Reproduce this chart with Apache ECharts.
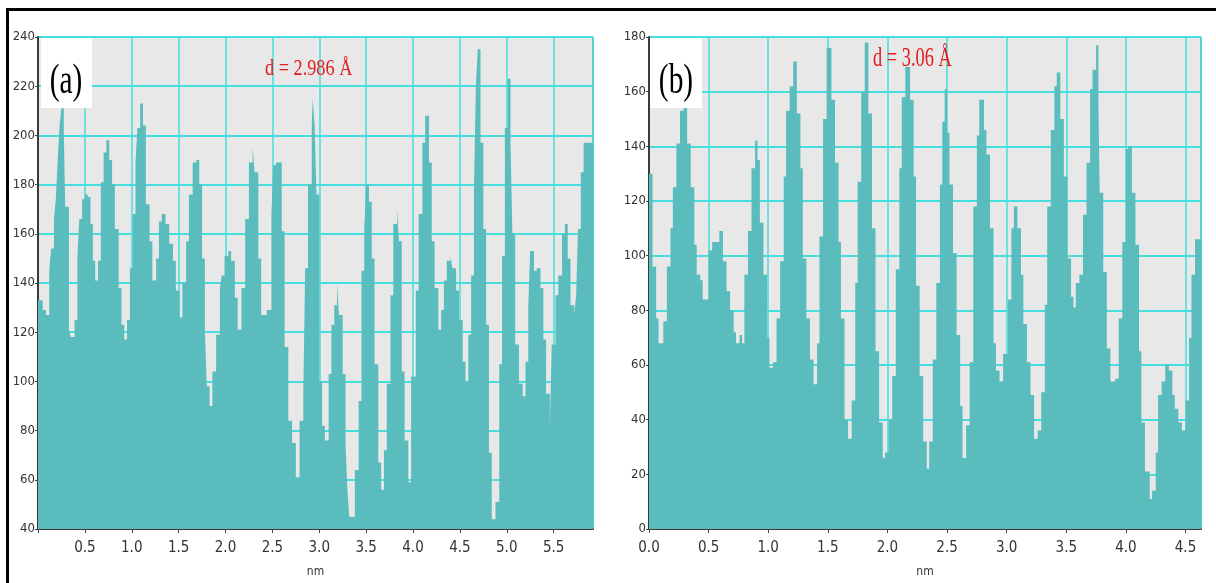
<!DOCTYPE html>
<html>
<head>
<meta charset="utf-8">
<script src="https://cdn.jsdelivr.net/npm/echarts@6/dist/echarts.min.js"></script>
<style>
html,body{margin:0;padding:0;background:#fff;}
#chart{width:1216px;height:583px;}
</style>
</head>
<body>
<div id="chart"></div>
<script>
// Panel (a): step-profile breakpoints (nm) and intensity values
const aX = [0.00,0.05,0.085,0.12,0.14,0.17,0.19,0.21,0.23,0.25,0.275,0.29,0.33,0.35,
0.39,0.42,0.44,0.47,0.50,0.53,0.56,0.585,0.61,
0.64,0.67,0.70,0.73,0.76,0.79,0.82,0.86,0.89,0.92,
0.95,0.98,1.01,1.04,1.06,1.09,1.12,1.15,1.19,1.22,
1.26,1.29,1.32,1.36,1.40,1.44,1.47,1.51,
1.54,1.58,1.61,1.65,1.69,1.72,1.75,1.78,1.80,1.83,
1.86,1.90,1.94,1.96,1.99,2.03,2.06,2.10,2.13,
2.17,2.21,2.25,2.29,2.31,2.35,2.38,
2.44,2.49,2.51,2.54,2.60,2.63,2.67,2.71,2.75,
2.79,2.83,2.85,2.88,2.92,2.93,2.95,2.97,3.00,3.03,3.06,
3.10,3.13,3.16,3.19,3.21,3.25,3.28,3.30,3.32,
3.38,3.42,3.45,3.48,3.50,3.53,3.56,3.59,3.63,3.66,
3.69,3.72,3.76,3.79,3.83,3.85,3.88,3.91,3.95,
3.98,4.03,4.06,4.10,4.13,4.17,4.20,4.23,4.27,4.30,
4.33,4.36,4.40,4.42,4.46,4.49,4.53,4.56,
4.59,4.62,4.65,4.67,4.69,4.72,4.75,4.78,4.81,4.84,
4.88,4.92,4.95,4.98,5.01,5.04,5.06,5.09,5.13,5.17,
5.20,5.23,5.25,5.29,5.32,5.36,5.39,5.42,5.46,
5.48,5.52,5.55,5.59,5.62,5.65,5.68,5.72,5.74,
5.76,5.79,5.82,5.92];
const aV = [133,129,127,145,154,166,174,190,204,211,202,171,121,118,
125,150,166,174,176,175,164,149,141,
149,181,193,198,190,180,162,138,123,117,
125,146,168,189,203,213,204,172,157,141,
150,165,168,164,156,149,137,126,
140,157,176,189,190,180,150,121,98,90,
104,119,138,143,151,153,149,134,121,
138,166,189,195,185,150,127,
129,168,188,189,161,114,84,75,61,
84,96,146,180,204,215,204,176,100,82,76,
103,123,131,140,127,103,75,56,45,
64,92,145,162,180,173,150,107,67,56,
72,99,135,164,170,157,104,76,59,
102,137,168,197,208,189,157,138,121,129,
141,149,151,146,137,125,108,100,
119,143,177,219,235,197,162,123,71,44,
51,107,151,203,223,197,160,115,99,94,
108,131,153,145,146,138,117,95,82,
115,135,143,160,164,150,131,127,135,
162,185,197,197];

// Panel (b)
const bX = [0.00,0.03,0.06,0.08,0.12,0.15,0.18,0.20,0.23,0.26,0.29,0.32,0.35,0.38,0.40,0.43,0.45,
0.50,0.53,0.59,0.62,0.65,0.68,0.71,0.73,0.76,0.78,
0.80,0.83,0.86,0.89,0.91,0.93,0.96,0.99,1.01,1.04,
1.07,1.10,1.13,1.15,1.18,1.21,1.24,1.27,1.29,1.32,1.35,1.38,
1.41,1.43,1.46,1.49,1.53,1.56,1.59,1.61,1.64,1.67,
1.70,1.73,1.75,1.78,1.81,1.84,1.87,1.90,1.93,1.96,1.98,
2.01,2.04,2.07,2.10,2.12,2.15,2.19,2.22,2.24,2.27,2.30,2.33,
2.35,2.38,2.41,2.44,2.46,2.48,2.50,2.52,2.55,2.58,2.61,2.63,
2.66,2.69,2.72,2.75,2.77,2.81,2.83,2.86,2.89,2.91,2.94,
2.97,3.01,3.04,3.06,3.09,3.12,3.14,3.17,3.20,3.23,3.26,
3.29,3.32,3.34,3.37,3.40,3.42,3.45,3.48,3.51,3.54,3.56,
3.58,3.61,3.64,3.67,3.70,3.72,3.75,3.77,3.78,3.81,3.84,3.87,
3.91,3.94,3.97,4.00,4.02,4.05,4.08,4.11,4.13,4.16,4.20,
4.22,4.25,4.27,4.30,4.33,4.36,4.39,4.41,4.44,4.47,4.50,4.53,4.55,4.58,4.63];
const bV = [130,96,77,68,76,96,110,125,141,153,163,141,125,104,93,91,84,
102,105,109,98,87,80,72,68,71,68,
93,109,132,142,135,112,93,70,59,61,
77,98,129,153,162,171,152,132,99,77,62,53,
68,107,150,176,157,134,105,77,40,33,
47,90,127,160,178,152,110,65,39,26,28,
40,56,95,132,158,169,157,129,89,56,32,22,
32,62,90,126,149,161,145,126,101,71,45,26,
38,61,118,144,157,146,137,110,68,58,54,
64,84,110,118,110,93,75,61,49,33,36,
50,82,118,146,162,167,150,129,99,85,81,
90,93,115,134,161,168,177,155,123,94,66,54,
55,77,105,139,140,123,104,65,39,21,11,
14,28,49,54,60,58,49,44,39,36,47,70,93,106,106];

const aTicksFmt = v => (v > 0.01 ? v.toFixed(1) : '');
const bTicksFmt = v => v.toFixed(1);

const teal = '#5abcbc';
const gridCyan = '#44dede';
const xFont = "'Liberation Sans Narrow', 'DejaVu Sans Condensed', 'Liberation Sans', sans-serif";

function xAxisCfg(idx, max, fmt) {
  return {
    type: 'value', gridIndex: idx, min: 0, max: max, interval: 0.5,
    name: 'nm', nameLocation: 'middle', nameGap: 37,
    nameTextStyle: { fontFamily: xFont, fontSize: 12, color: '#333' },
    axisLine: { show: true, lineStyle: { color: '#3a3a3a', width: 2 } },
    axisTick: { show: true, length: 4, lineStyle: { color: '#444', width: 1 } },
    axisLabel: { formatter: fmt, fontFamily: xFont, fontSize: 15, color: '#333', margin: 12, showMaxLabel: false },
    splitLine: { show: true, lineStyle: { color: gridCyan, width: 1.5 } }
  };
}
function yAxisCfg(idx, min, max) {
  return {
    type: 'value', gridIndex: idx, min: min, max: max, interval: 20,
    axisLine: { show: true, lineStyle: { color: '#3a3a3a', width: 2 } },
    axisTick: { show: true, length: 3, lineStyle: { color: '#444', width: 1 } },
    axisLabel: { fontFamily: xFont, fontSize: 13, color: '#333', margin: 3 },
    splitLine: { show: true, lineStyle: { color: gridCyan, width: 2 } }
  };
}

const chart = echarts.init(document.getElementById('chart'), null, { renderer: 'canvas' });
chart.setOption({
  animation: false,
  backgroundColor: '#ffffff',
  grid: [
    { left: 38, top: 37, width: 555, height: 496, show: true, backgroundColor: '#e8e8e8', borderColor: '#555', borderWidth: 1 },
    { left: 649, top: 37, width: 552, height: 494, show: true, backgroundColor: '#e8e8e8', borderColor: '#555', borderWidth: 1 }
  ],
  xAxis: [xAxisCfg(0, 5.92, aTicksFmt), xAxisCfg(1, 4.63, bTicksFmt)],
  yAxis: [yAxisCfg(0, 40, 240), yAxisCfg(1, 0, 180)],
  series: [
    { type: 'line', xAxisIndex: 0, yAxisIndex: 0, step: 'end', symbol: 'none',
      data: aX.map((x, i) => [x, aV[i]]),
      lineStyle: { width: 0, color: teal }, areaStyle: { color: teal, opacity: 1, origin: 'start' } },
    { type: 'line', xAxisIndex: 1, yAxisIndex: 1, step: 'end', symbol: 'none',
      data: bX.map((x, i) => [x, bV[i]]),
      lineStyle: { width: 0, color: teal }, areaStyle: { color: teal, opacity: 1, origin: 'start' } }
  ],
  graphic: [
    { type: 'rect', z: 100, shape: { x: 6, y: 8, width: 1210, height: 3 }, style: { fill: '#000' } },
    { type: 'rect', z: 100, shape: { x: 6, y: 8, width: 3, height: 575 }, style: { fill: '#000' } },
    { type: 'rect', z: 100, shape: { x: 41, y: 38, width: 51, height: 70 }, style: { fill: '#fff' } },
    { type: 'rect', z: 100, shape: { x: 650, y: 38, width: 52, height: 70 }, style: { fill: '#fff' } },
    { type: 'text', z: 101, x: 66, y: 82, scaleX: 0.7,
      style: { text: '(a)', font: "42px 'Liberation Serif', serif", fill: '#000', textAlign: 'center', textVerticalAlign: 'middle' } },
    { type: 'text', z: 101, x: 676, y: 82, scaleX: 0.7,
      style: { text: '(b)', font: "42px 'Liberation Serif', serif", fill: '#000', textAlign: 'center', textVerticalAlign: 'middle' } },
    { type: 'text', z: 101, x: 265, y: 69, scaleX: 0.76,
      style: { text: 'd = 2.986 Å', font: "24px 'Liberation Serif', serif", fill: '#e31a1c', textAlign: 'left', textVerticalAlign: 'middle' } },
    { type: 'text', z: 101, x: 873, y: 59, scaleX: 0.68,
      style: { text: 'd = 3.06 Å', font: "27px 'Liberation Serif', serif", fill: '#e31a1c', textAlign: 'left', textVerticalAlign: 'middle' } }
  ]
});
</script>
</body>
</html>
